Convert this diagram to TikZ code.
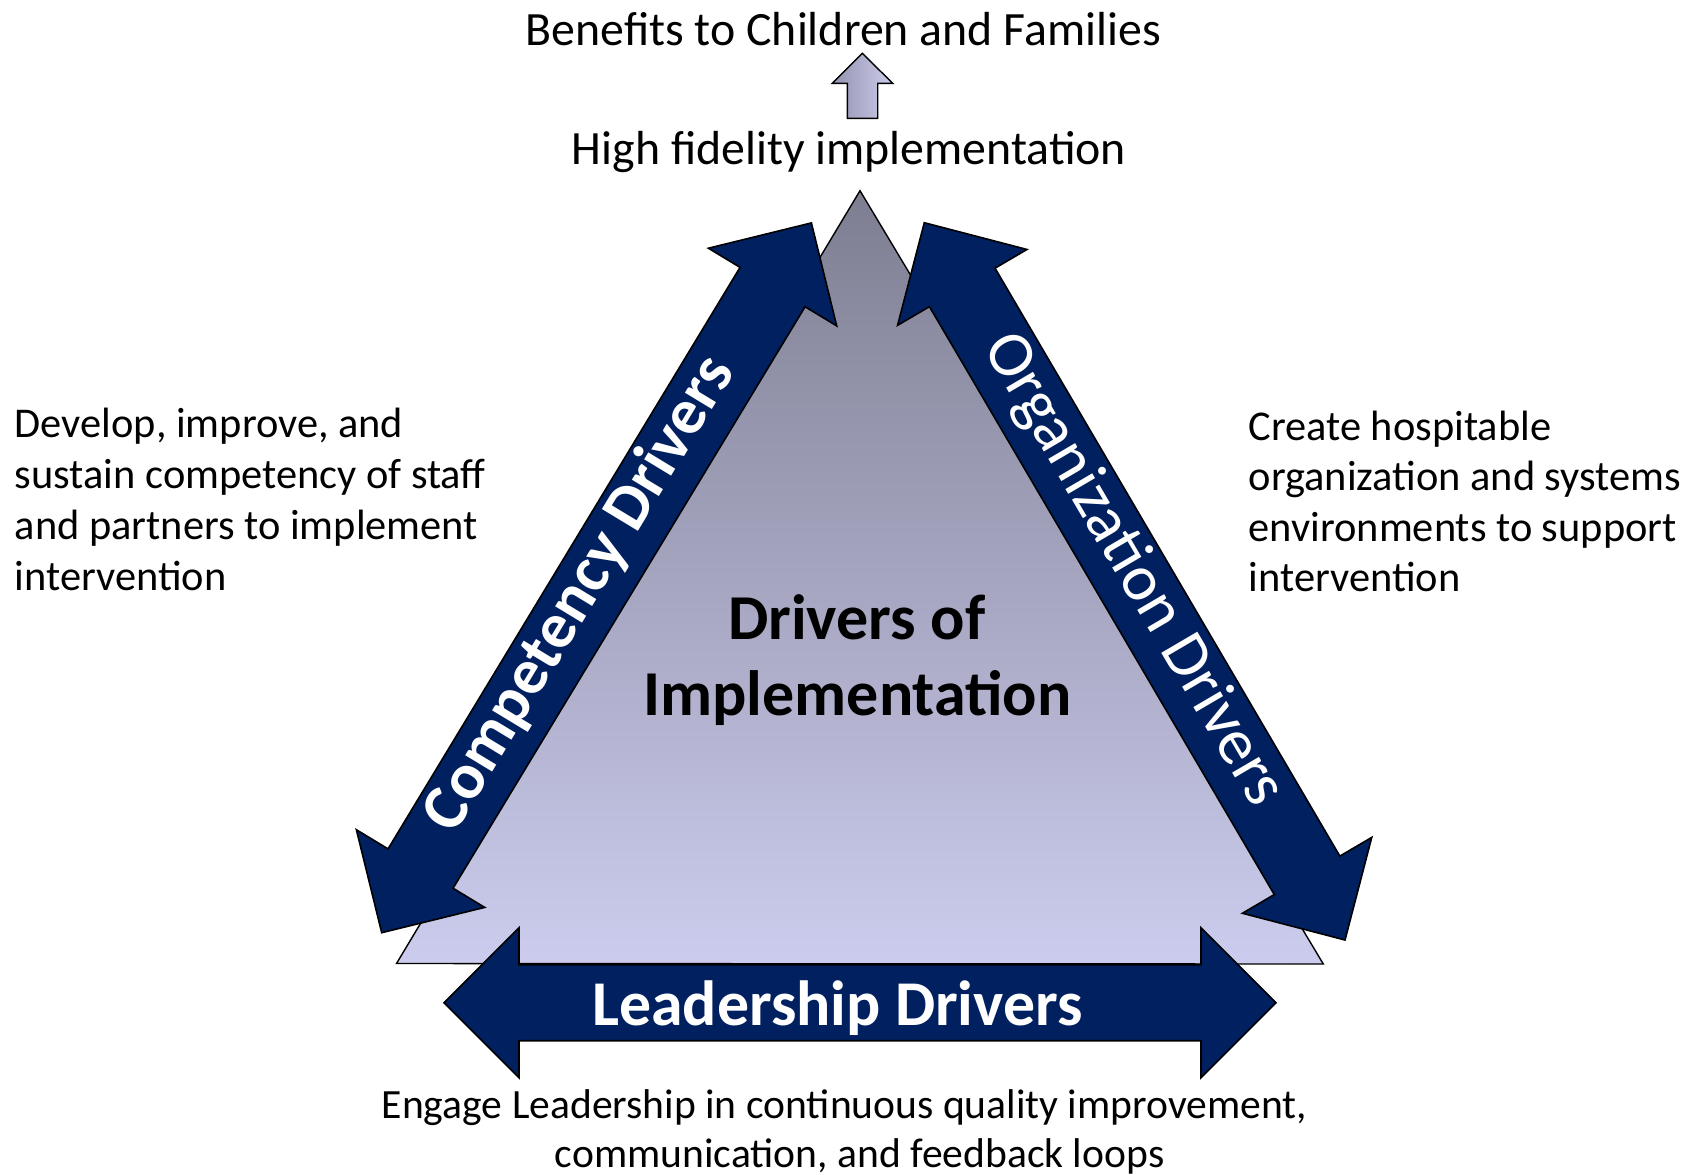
\documentclass[tikz,border=0pt]{standalone}
\usepackage{fontspec}
\setmainfont{Carlito}
\usetikzlibrary{calc}

\definecolor{navy}{RGB}{0,32,96}
\definecolor{triTop}{RGB}{126,126,146}
\definecolor{triBot}{RGB}{204,204,238}
\definecolor{upL}{RGB}{148,148,176}
\definecolor{upR}{RGB}{204,204,236}

\tikzset{
  blockarrow/.style={draw=black, line width=0.8pt, fill=navy, line join=miter},
  plain/.style={inner sep=0pt, font=\fontsize{21.2}{25}\selectfont},
  toptext/.style={inner sep=0pt, font=\fontsize{23.9}{28}\selectfont},
  arrowtext/.style={inner sep=0pt, text=white},
  titletext/.style={inner sep=0pt, anchor=base, font=\fontsize{32}{38}\selectfont\bfseries},
}

% double-headed block arrow between two tip coordinates
% head length 37.5pt, head half-width 37.5pt, shaft half-width 19pt
\newcommand{\dblblockarrow}[2]{%
  \coordinate (#1h) at ($(#1)!37.5pt!(#2)$);
  \coordinate (#2h) at ($(#2)!37.5pt!(#1)$);
  \draw[blockarrow]
    (#1)
    -- ($(#1h)!37.5pt!90:(#2)$)
    -- ($(#1h)!19pt!90:(#2)$)
    -- ($(#2h)!19pt!-90:(#1)$)
    -- ($(#2h)!37.5pt!-90:(#1)$)
    -- (#2)
    -- ($(#2h)!37.5pt!90:(#1)$)
    -- ($(#2h)!19pt!90:(#1)$)
    -- ($(#1h)!19pt!-90:(#2)$)
    -- ($(#1h)!37.5pt!-90:(#2)$)
    -- cycle;
}

\begin{document}
\begin{tikzpicture}[x=0.5pt, y=-0.5pt]
  % canvas
  \fill[white] (0,0) rectangle (1702,1174);
  \useasboundingbox (0,0) rectangle (1702,1174);

  % outcome labels and the small upward arrow
  \node[toptext, anchor=base] (benefits) at (843.4,45.5) {Benefits to Children and Families};
  \shade[left color=upL, right color=upR, draw=black, line width=0.7pt]
    (862.3,53.3) -- (892.7,83.3) -- (877.7,83.3) -- (877.7,118.3)
    -- (847.3,118.3) -- (847.3,83.3) -- (832.3,83.3) -- cycle;
  \node[toptext, anchor=base] (fidelity) at (849,164) {High fidelity implementation};

  % central triangle
  \shade[top color=triTop, bottom color=triBot, draw=black, line width=0.7pt]
    (860,190.7) -- (1323.3,964) -- (396.5,963.5) -- cycle;

  \node[titletext] (title1) at (856.7,639) {Drivers of};
  \node[titletext] (title2) at (857.5,715) {Implementation};

  % driver arrows
  \coordinate (cA) at (811.4,222.9);
  \coordinate (cB) at (381.7,932.7);
  \coordinate (oA) at (924.3,222.7);
  \coordinate (oB) at (1345,940);
  \coordinate (lA) at (444,1002.7);
  \coordinate (lB) at (1276,1002.7);

  \dblblockarrow{cA}{cB}
  \dblblockarrow{oA}{oB}
  \dblblockarrow{lA}{lB}

  \node[arrowtext, rotate=58.8, font=\fontsize{32.5}{38}\selectfont\bfseries] (comp) at (580,594) {Competency Drivers};
  \node[arrowtext, rotate=-59.6, font=\fontsize{32.6}{38}\selectfont] (org) at (1133,570) {Organization Drivers};
  \node[arrowtext, anchor=base, font=\fontsize{31.9}{38}\selectfont\bfseries] (lead) at (837.5,1025) {Leadership Drivers};

  % left description
  \node[plain, anchor=base west] (left1) at (14.5,437.7) {Develop, improve, and};
  \node[plain, anchor=base west] (left2) at (14.5,488.5) {sustain competency of staff};
  \node[plain, anchor=base west] (left3) at (14.5,539.3) {and partners to implement};
  \node[plain, anchor=base west] (left4) at (14.5,590) {intervention};

  % right description
  \node[plain, anchor=base west] (right1) at (1248.3,440) {Create hospitable};
  \node[plain, anchor=base west] (right2) at (1248.3,490.5) {organization and systems};
  \node[plain, anchor=base west] (right3) at (1248.3,541) {environments to support};
  \node[plain, anchor=base west] (right4) at (1248.3,591.7) {intervention};

  % bottom description
  \node[plain, anchor=base, font=\fontsize{20.8}{25}\selectfont] (bottom1) at (844.5,1118) {Engage Leadership in continuous quality improvement,};
  \node[plain, anchor=base, font=\fontsize{20.8}{25}\selectfont] (bottom2) at (859.7,1167) {communication, and feedback loops};
\end{tikzpicture}
\end{document}
